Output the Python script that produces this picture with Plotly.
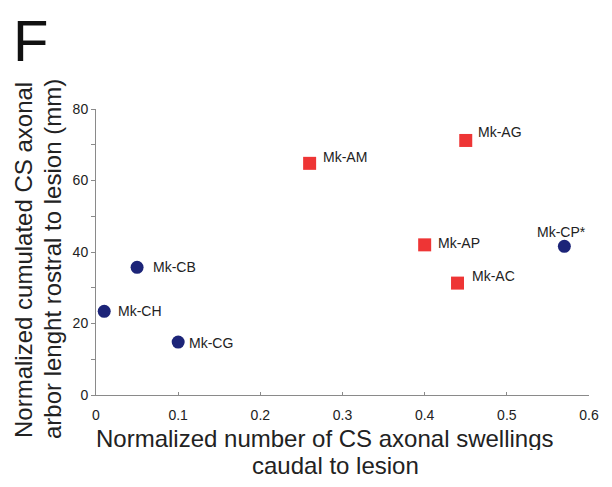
import plotly.graph_objects as go

# Data
c_names = ["Mk-CH", "Mk-CB", "Mk-CG", "Mk-CP*"]
c_x = [0.01, 0.05, 0.10, 0.57]
c_y = [23.4, 35.7, 14.8, 41.6]

a_names = ["Mk-AM", "Mk-AG", "Mk-AP", "Mk-AC"]
a_x = [0.26, 0.45, 0.40, 0.44]
a_y = [64.8, 71.2, 42.0, 31.3]

x_ticks = [0, 0.1, 0.2, 0.3, 0.4, 0.5, 0.6]
x_tick_labels = ["0", "0.1", "0.2", "0.3", "0.4", "0.5", "0.6"]
y_ticks = [0, 20, 40, 60, 80]
y_tick_labels = ["0", "20", "40", "60", "80"]

# label placement (pixel offsets from marker centre)
label_offsets = {
    "Mk-CH": (12, 0, "left"), "Mk-CB": (14, 0, "left"), "Mk-CG": (9, -1, "left"),
    "Mk-CP*": (-3, 14, "center"),
    "Mk-AM": (11, 6, "left"), "Mk-AG": (10, 8, "left"), "Mk-AP": (11, 2, "left"),
    "Mk-AC": (12, 7, "left"),
}

FONT = "Liberation Sans, Arial, sans-serif"
NAVY = "#1c2478"
RED = "#ee3535"
TXT = "#222222"
AX = "#8a8a8a"

# page body has an 8px margin: figure is sized to fit inside the window
W, H = 604, 479
L, R, T, B = 88, 23, 101, 92
OFF = 8

fig = go.Figure()
fig.add_trace(go.Scatter(x=c_x, y=c_y, mode="markers", cliponaxis=False,
                         marker=dict(symbol="circle", size=13, color=NAVY)))
fig.add_trace(go.Scatter(x=a_x, y=a_y, mode="markers", cliponaxis=False,
                         marker=dict(symbol="square", size=13, color=RED)))

annotations = []
for names, xs, ys in [(c_names, c_x, c_y), (a_names, a_x, a_y)]:
    for n, xv, yv in zip(names, xs, ys):
        dx, dy, anc = label_offsets[n]
        annotations.append(dict(x=xv, y=yv, xref="x", yref="y", text=n, showarrow=False,
                                xanchor=anc, yanchor="middle", xshift=dx, yshift=dy,
                                font=dict(family=FONT, size=14, color=TXT)))

fig.update_layout(
    width=W, height=H,
    margin=dict(l=L, r=R, t=T, b=B),
    paper_bgcolor="white", plot_bgcolor="white",
    showlegend=False,
    font=dict(family=FONT, color=TXT),
    xaxis=dict(range=[0, 0.6], tickvals=x_ticks, ticktext=x_tick_labels,
               showgrid=False, zeroline=False, showline=True, linecolor=AX, linewidth=1,
               ticks="inside", ticklen=3, tickcolor=AX, ticklabelstandoff=7,
               tickfont=dict(family=FONT, size=14, color=TXT)),
    yaxis=dict(range=[0, 80], tickvals=y_ticks, ticktext=y_tick_labels,
               showgrid=False, zeroline=False, showline=True, linecolor=AX, linewidth=1,
               ticks="outside", ticklen=4, tickcolor=AX,
               minor=dict(dtick=10, ticks="outside", ticklen=4, tickcolor=AX),
               tickfont=dict(family=FONT, size=14, color=TXT)),
    annotations=annotations,
)

pw, ph = W - L - R, H - T - B
def px(xs):  # screenshot pixel -> paper
    return (xs - OFF - L) / pw
def py(ys):
    return (H - B - (ys - OFF)) / ph

fig.add_annotation(text="F", x=px(11), y=py(40), xref="paper", yref="paper",
                   xanchor="left", yanchor="middle", showarrow=False,
                   height=56, valign="middle",
                   font=dict(family=FONT, size=58, color="#111111"))
fig.add_annotation(text="Normalized cumulated CS axonal", x=px(24), y=py(260),
                   xref="paper", yref="paper", textangle=-90, showarrow=False,
                   xanchor="center", yanchor="middle",
                   font=dict(family=FONT, size=24, color=TXT))
fig.add_annotation(text="arbor lenght rostral to lesion (mm)", x=px(52), y=py(259),
                   xref="paper", yref="paper", textangle=-90, showarrow=False,
                   xanchor="center", yanchor="middle",
                   font=dict(family=FONT, size=24, color=TXT))
fig.add_annotation(text="Normalized number of CS axonal swellings", x=px(325), y=py(438),
                   xref="paper", yref="paper", showarrow=False,
                   xanchor="center", yanchor="middle", height=24, valign="middle",
                   font=dict(family=FONT, size=24, color=TXT))
fig.add_annotation(text="caudal to lesion", x=px(335), y=py(465),
                   xref="paper", yref="paper", showarrow=False,
                   xanchor="center", yanchor="middle", height=24, valign="middle",
                   font=dict(family=FONT, size=24, color=TXT))

fig.write_html("out.html")
